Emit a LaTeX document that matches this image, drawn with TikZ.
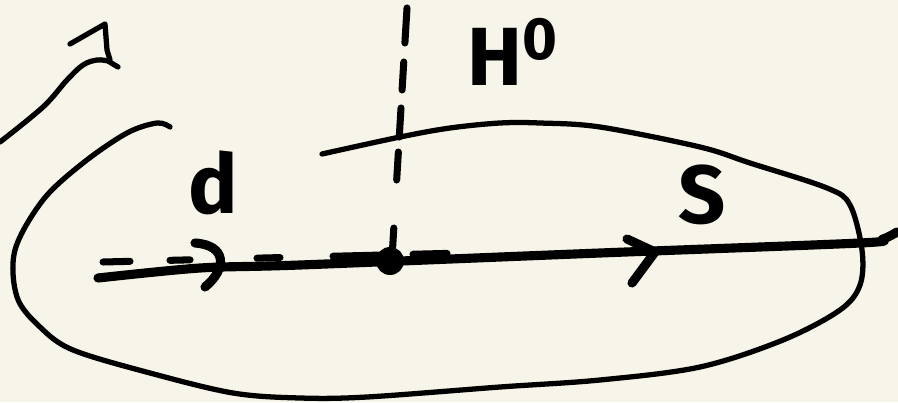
\documentclass[tikz,border=0pt]{standalone}
\usepackage{fontspec}
\setmainfont{Fira Sans}
\usetikzlibrary{positioning}
\definecolor{paper}{HTML}{F7F5E9}
\begin{document}
\begin{tikzpicture}[x=0.02cm, y=-0.02cm, line cap=round, line join=round,
    pen/.style={line width=3pt},
    marker/.style={line width=5.2pt},
    lbl/.style={font=\fontsize{47}{47}\selectfont\bfseries, inner sep=0pt}]
    \useasboundingbox (0,0) rectangle (898,402);
    \fill[paper] (0,0) rectangle (898,402);
    % the stroke at the top left
    \draw[pen] plot[smooth, tension=0.6] coordinates {(0,142) (43,107) (67,80) (83,65) (97,60) (108,61)} -- (118,67);
    \draw[pen] (70,44) -- (105,24) -- (107,50) -- (110,60);
    % the open loop
    \draw[pen] plot[smooth, tension=0.55] coordinates {(170,127) (157,123) (127,133) (83,163) (43,200) (15,250)
        (17,297) (40,327) (73,350) (150,373) (233,393) (300,398) (367,397) (500,387) (600,380) (700,367)
        (783,340) (840,310) (860,285) (862,250) (850,205) (827,188) (750,163) (700,147) (600,127)
        (540,123) (500,123) (450,128) (400,137) (322,154)};
    % the line with its arrows
    \node[circle, fill, inner sep=0pt, minimum size=0.56cm] (o) at (390,261) {};
    \draw[marker] plot[smooth, tension=0.5] coordinates {(98,278) (200,268) (300,265) (600,253) (860,243) (883,239) (897,232)};
    \draw[marker] (195,243) .. controls (226,245) and (228,268) .. (205,287);
    \draw[marker] (627,239) -- (655,252) -- (632,283);
    \foreach \a/\b in {103/130, 170/190, 257/280, 333/380, 413/447}
        \draw[line width=4pt] (\a,{262-(\a-103)*0.025}) -- (\b,{262-(\b-103)*0.025});
    % dashed vertical
    \foreach \a/\b in {8/43, 62/90, 108/137, 152/180, 228/247}
        \draw[line width=4pt] ({407-(\a-8)*0.06},\a) -- ({407-(\b-8)*0.06},\b);
    \node[lbl] (h) at (512,52) {H\raisebox{0.32em}{\fontsize{34}{34}\selectfont 0}};
    \node[lbl] (d) at (213,183) {d};
    \node[lbl] (s) at (702,195) {S};
\end{tikzpicture}
\end{document}
